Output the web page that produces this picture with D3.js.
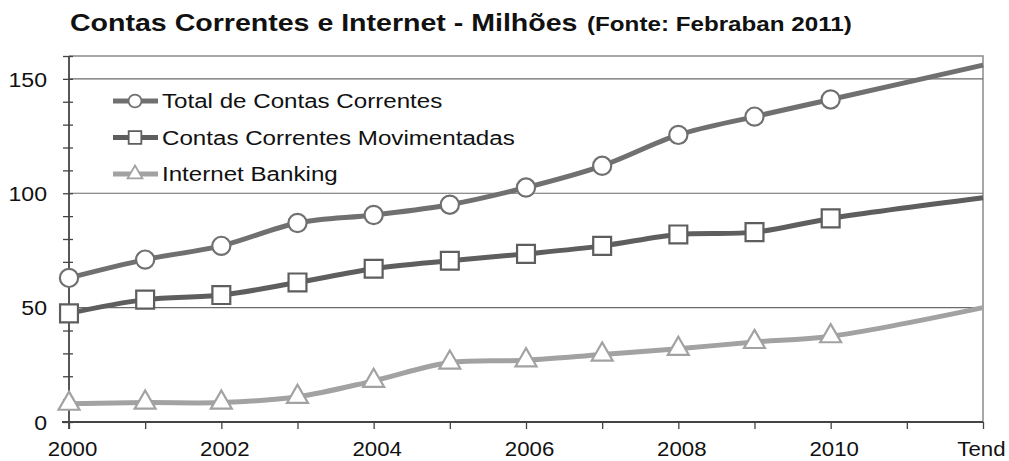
<!DOCTYPE html>
<html>
<head>
<meta charset="utf-8">
<script src="https://cdn.jsdelivr.net/npm/d3@7"></script>
<style>
	body { margin: 0; background: #fff; }
	svg text { font-family: "Liberation Sans", Arial, sans-serif; }
</style>
</head>
<body>
<svg id="chart" width="1009" height="461"></svg>
<script>
// categories on the x axis
var years = ["2000", "2001", "2002", "2003", "2004", "2005", "2006", "2007", "2008", "2009", "2010", "2011", "Tend"];
var xLabels = ["2000", "2002", "2004", "2006", "2008", "2010", "Tend"];

// series (millions); null = no point that year
var totalContas = [63, 71, 77, 87, 90.5, 95, 102.5, 112, 125.5, 133.5, 141, null, 156];
var contasMovimentadas = [47.5, 53.5, 55.5, 61, 67, 70.5, 73.5, 77, 82, 83, 89, null, 98];
var internetBanking = [8, 8.5, 8.5, 11, 18, 26, 27, 29.5, 32, 35, 37.5, null, 50];

var yTicks = [0, 50, 100, 150];

var series = [
	{ name: "Total de Contas Correntes", values: totalContas, color: "#707070", symbol: d3.symbolCircle, size: 260 },
	{ name: "Contas Correntes Movimentadas", values: contasMovimentadas, color: "#5e5e5e", symbol: d3.symbolSquare, size: 320 },
	{ name: "Internet Banking", values: internetBanking, color: "#a2a2a2", symbol: d3.symbolTriangle, size: 190 }
];

var svg = d3.select("#chart"),
	margin = { top: 56, left: 69, right: 26, bottom: 39 },
	width = +svg.attr("width"),
	height = +svg.attr("height");

var x = d3.scalePoint()
	.domain(years)
	.range([margin.left, width - margin.right]);

var y = d3.scaleLinear()
	.domain([0, 160])
	.range([height - margin.bottom, margin.top]);

// the source picture is a bit wider than tall, stretch the text the same way
function stretch(sel, tx, ty, sx) {
	sel.attr("x", 0).attr("y", 0)
		.attr("transform", "translate(" + tx + "," + ty + ") scale(" + sx + ",1)");
}

// title
svg.append("text")
	.attr("font-weight", "bold").attr("fill", "#111").attr("font-size", 24)
	.text("Contas Correntes e Internet - Milhões")
	.call(stretch, 70, 31, 1.19);
svg.append("text")
	.attr("font-weight", "bold").attr("fill", "#111").attr("font-size", 20)
	.text("(Fonte: Febraban 2011)")
	.call(stretch, 587, 31, 1.21);

// frame (top and right)
svg.append("path")
	.attr("d", "M" + x("2000") + "," + y(160) + "H" + x("Tend") + "V" + y(0))
	.attr("fill", "none")
	.attr("stroke", "#8a8a8a")
	.attr("stroke-width", 1.5);

// gridlines
svg.append("g").selectAll("line")
	.data(yTicks.filter(function(d) { return d > 0; }))
	.enter().append("line")
	.attr("x1", x("2000"))
	.attr("x2", x("Tend"))
	.attr("y1", function(d) { return y(d); })
	.attr("y2", function(d) { return y(d); })
	.attr("stroke", "#6a6a6a")
	.attr("stroke-width", 1.2);

// y axis
var yAxis = d3.axisLeft(y)
	.tickValues(d3.range(0, 161, 10))
	.tickSize(6)
	.tickFormat(function(d) { return yTicks.indexOf(d) >= 0 ? d : ""; });
var gy = svg.append("g")
	.attr("transform", "translate(" + x("2000") + ",0)")
	.call(yAxis);
gy.select(".domain").attr("stroke", "#444").attr("stroke-width", 1.8).attr("d", "M0," + y(160) + "V" + (y(0) + 7));
gy.selectAll(".tick line").attr("stroke", "#444").attr("stroke-width", 1.3).attr("x2", 4).attr("x1", -6);
gy.selectAll(".tick text")
	.attr("font-size", 21).attr("fill", "#111")
	.attr("font-family", "Liberation Sans, Arial, sans-serif")
	.each(function() { d3.select(this).call(stretch, -22, 0, 1.1); })
	.attr("dy", "0.35em");

// x axis
var xAxis = d3.axisBottom(x)
	.tickSize(7)
	.tickFormat(function(d) { return xLabels.indexOf(d) >= 0 ? d : ""; });
var gx = svg.append("g")
	.attr("transform", "translate(0," + y(0) + ")")
	.call(xAxis);
gx.select(".domain").attr("stroke", "#444").attr("stroke-width", 1.8).attr("d", "M" + (x("2000") - 7) + ",0H" + x("Tend"));
gx.selectAll(".tick line").attr("stroke", "#444").attr("stroke-width", 1.3);
gx.selectAll(".tick text")
	.attr("font-size", 21).attr("fill", "#111")
	.attr("font-family", "Liberation Sans, Arial, sans-serif")
	.each(function(d) { d3.select(this).call(stretch, d == "Tend" ? -2 : 3, 34, 1.06); })
	.attr("dy", null);

// lines
var line = d3.line()
	.x(function(d) { return x(d.year); })
	.y(function(d) { return y(d.v); })
	.curve(d3.curveCatmullRom.alpha(0.5));

series.forEach(function(s) {
	var pts = s.values.map(function(v, i) { return { year: years[i], v: v }; })
		.filter(function(d) { return d.v != null; });
	s.pts = pts;
	svg.append("path")
		.datum(pts)
		.attr("d", line)
		.attr("fill", "none")
		.attr("stroke", s.color)
		.attr("stroke-width", 5)
		.attr("stroke-linejoin", "round");
});

// markers (not at trend point)
series.forEach(function(s) {
	svg.append("g").selectAll("path")
		.data(s.pts.filter(function(d) { return d.year != "Tend"; }))
		.enter().append("path")
		.attr("transform", function(d) { return "translate(" + x(d.year) + "," + y(d.v) + ")"; })
		.attr("d", d3.symbol().type(s.symbol).size(s.size))
		.attr("fill", "#fff")
		.attr("stroke", s.color)
		.attr("stroke-width", 2.2);
});

// legend
var legend = svg.append("g");
series.forEach(function(s, i) {
	var ly = 101 + i * 36.5;
	legend.append("line")
		.attr("x1", 113).attr("x2", 158)
		.attr("y1", ly).attr("y2", ly)
		.attr("stroke", s.color)
		.attr("stroke-width", 5);
	legend.append("path")
		.attr("transform", "translate(135," + ly + ")")
		.attr("d", d3.symbol().type(s.symbol).size(s.size * 0.5))
		.attr("fill", "#fff")
		.attr("stroke", s.color)
		.attr("stroke-width", 1.8);
	legend.append("text")
		.attr("font-size", 21)
		.attr("fill", "#111")
		.attr("dy", "0.35em")
		.text(s.name)
		.call(stretch, 162, ly, 1.15);
});
</script>
</body>
</html>
